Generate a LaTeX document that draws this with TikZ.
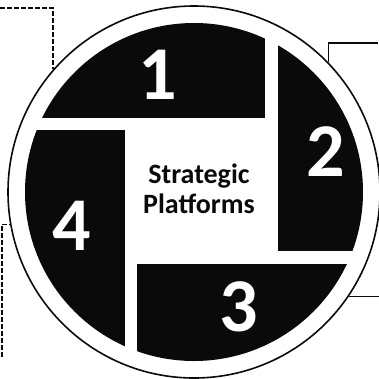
\documentclass[tikz,border=0pt]{standalone}
\usepackage{fontspec}
\setmainfont{Carlito}
\usepackage{tikz}
\usetikzlibrary{calc}
\definecolor{ink}{HTML}{0A0A0A}
\tikzset{ring/.style={circle,draw=ink,line width=1.6pt,inner sep=0pt,minimum size=372pt},blk/.style={fill=ink},num/.style={text=white,font=\fontsize{76}{76}\selectfont\bfseries,inner sep=0pt},title/.style={text=ink,font=\fontsize{28}{30}\selectfont\bfseries,align=center,inner sep=0pt},leader/.style={draw=ink,line width=1.3pt,dashed,dash pattern=on 5pt off 2pt},lead/.style={draw=ink,line width=1.3pt}}

\begin{document}
\begin{tikzpicture}[x=1pt,y=-1pt]
\useasboundingbox (0,0) rectangle (379,378);
\node[ring] (ring) at (194,192) {};
\begin{scope}
\clip (194,192) circle (169pt);
\fill[blk] (0,0) rectangle (265,118);
\fill[blk] (278,0) rectangle (379,251);
\fill[blk] (137,264) rectangle (379,378);
\fill[blk] (0,130) rectangle (125,378);
\end{scope}
\node[num] (n1) at (158,75) {1};
\node[num] (n2) at (326,152) {2};
\node[num] (n3) at (239,307) {3};
\node[num] (n4) at (72,226) {4};
\node[title] (core) at (199,189) {Strategic\\Platforms};
% leaders to the ring
\coordinate (e1) at (0,8);
\coordinate (e2) at (378,43);
\coordinate (e3) at (379,297);
\coordinate (e4) at (2,357);
\draw[leader] (e1) -| (ring.139);
\draw[lead] (ring.44) |- (e2);
\draw[lead] (ring.-34) -- (ring.-34 -| e3);
\draw[leader] (e4) |- (ring.190);
\end{tikzpicture}
\end{document}
